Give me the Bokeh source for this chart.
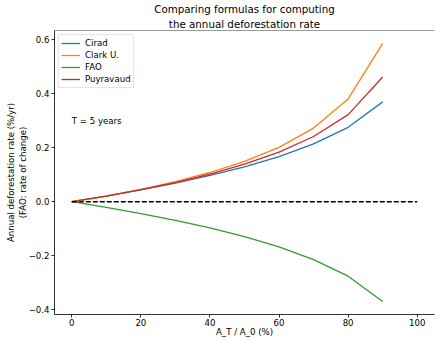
from bokeh.plotting import figure
from bokeh.models import (Range1d, FixedTicker, CustomJSTickFormatter, Legend,
                          LegendItem, Span, Title)
from bokeh.core.properties import value
from bokeh.embed import file_html
from bokeh.resources import INLINE

# ---- data ----
ratio_pct = [0, 10, 20, 30, 40, 50, 60, 70, 80, 90]
cirad = [0, 0.021, 0.044, 0.069, 0.097, 0.129, 0.167, 0.214, 0.275, 0.369]
clark = [0, 0.021, 0.046, 0.074, 0.108, 0.149, 0.201, 0.272, 0.380, 0.585]
fao = [0, -0.021, -0.044, -0.069, -0.097, -0.129, -0.167, -0.214, -0.275, -0.369]
puyravaud = [0, 0.021, 0.045, 0.071, 0.102, 0.139, 0.183, 0.241, 0.322, 0.461]
zero_x = [0, 100]
zero_y = [0, 0]
x_ticks = [0, 20, 40, 60, 80, 100]
y_ticks = [-0.4, -0.2, 0.0, 0.2, 0.4, 0.6]
series_names = ["Cirad", "Clark U.", "FAO", "Puyravaud"]
series_colors = ["#1f77b4", "#ff7f0e", "#2ca02c", "#d62728"]
note_text = "T = 5 years"
title_lines = ["Comparing formulas for computing", "the annual deforestation rate"]
x_label = "A_T / A_0 (%)"
y_label = "Annual deforestation rate (%/yr)\n(FAO: rate of change)"

FONT = "DejaVu Sans"
TICK_PX = "8.6px"
X0, X1 = -5, 105
Y0, Y1 = -0.4167, 0.6327

p = figure(width=435, height=341, output_backend="svg", toolbar_location=None,
           x_range=Range1d(X0, X1), y_range=Range1d(Y0, Y1),
           min_border_left=54, min_border_right=1, min_border_top=30,
           min_border_bottom=27, title=None)
p.background_fill_color = "white"
p.border_fill_color = "white"
p.outline_line_color = None
p.xgrid.visible = False
p.ygrid.visible = False

# two-line title: the line added first sits closest to the frame
p.add_layout(Title(text=title_lines[1], align="center", text_font=FONT,
                   text_font_size="10.3px", text_font_style="normal",
                   text_color="black", standoff=2, offset=0), "above")
p.add_layout(Title(text=title_lines[0], align="center", text_font=FONT,
                   text_font_size="10.3px", text_font_style="normal",
                   text_color="black", standoff=0, offset=0), "above")

for ax in (p.xaxis[0], p.yaxis[0]):
    ax.axis_line_color = "black"
    ax.axis_line_width = 0.8
    ax.major_tick_line_color = "black"
    ax.major_tick_line_width = 0.8
    ax.major_tick_out = 3
    ax.major_tick_in = 0
    ax.minor_tick_line_color = None
    ax.major_label_text_font = FONT
    ax.major_label_text_font_size = TICK_PX
    ax.major_label_text_color = "black"
    ax.axis_label_text_font = FONT
    ax.axis_label_text_font_size = TICK_PX
    ax.axis_label_text_font_style = "normal"
    ax.axis_label_text_color = "black"

p.xaxis.major_label_standoff = 1
p.xaxis.axis_label_standoff = -2
p.yaxis.major_label_standoff = 2
p.yaxis.axis_label_standoff = -2

p.xaxis.ticker = FixedTicker(ticks=x_ticks)
p.yaxis.ticker = FixedTicker(ticks=y_ticks)
p.xaxis.formatter = CustomJSTickFormatter(code="return tick.toFixed(0);")
p.yaxis.formatter = CustomJSTickFormatter(
    code="return (tick < -1e-9 ? '\\u2212' : '') + Math.abs(tick).toFixed(1);")
p.xaxis.axis_label = x_label
p.yaxis.axis_label = y_label

top_spine = Span(location=Y1, dimension="width", line_color="black",
                 line_width=0.8)
p.add_layout(top_spine)

items = []
for name, ys, col in zip(series_names, [cirad, clark, fao, puyravaud], series_colors):
    r = p.line(ratio_pct, ys, line_color=col, line_width=1.3)
    items.append(LegendItem(label=name, renderers=[r]))

p.line(zero_x, zero_y, line_color="black", line_width=1.3, line_dash="5 2")

p.text(x=[0], y=[0.3], text=[note_text], text_font=value(FONT),
       text_font_size=TICK_PX, text_align="left", text_baseline="alphabetic",
       text_color="black")

legend = Legend(items=items, location="top_left", margin=4, padding=2,
                spacing=0, label_height=12, glyph_height=12, glyph_width=19,
                label_standoff=5, label_text_font=FONT,
                label_text_font_size=TICK_PX, label_text_color="black",
                border_line_color="#cccccc", border_line_width=0.8,
                background_fill_alpha=0.8)
p.add_layout(legend)

open("out.html", "w").write(file_html(p, INLINE))
